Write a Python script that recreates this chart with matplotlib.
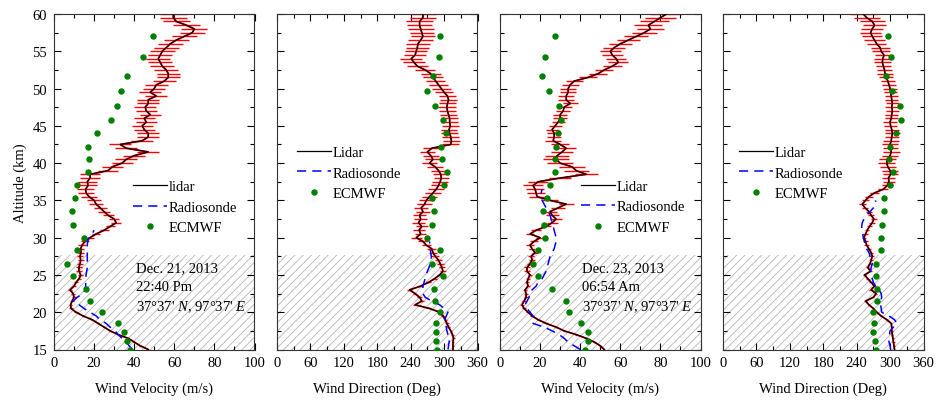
import numpy as np
import matplotlib
matplotlib.use("Agg")
import matplotlib.pyplot as plt
from matplotlib.ticker import MultipleLocator

plt.rcParams['font.family'] = ['Liberation Serif', 'DejaVu Serif']
plt.rcParams['font.size'] = 10.5
plt.rcParams['mathtext.fontset'] = 'custom'
plt.rcParams['mathtext.rm'] = 'Liberation Serif'
plt.rcParams['mathtext.it'] = 'Liberation Serif:italic'
plt.rcParams['hatch.color'] = '#b5b5b5'
plt.rcParams['hatch.linewidth'] = 0.6

# ---------------- data ----------------
alt = np.arange(15.0, 60.01, 0.5)          # lidar altitude grid (km)

# Panel 1: wind velocity, Dec 21 2013
lidar_v1 = [47, 43, 40, 37, 32, 28, 25, 22, 19, 14.5,
            11, 8.5, 8.3, 9, 10, 9.5, 8, 10, 11, 12.5,
            13.3, 12.5, 12.4, 13, 13.3, 13, 13.5, 13.3, 14, 15.5,
            18, 21, 25, 28, 31, 30, 27, 25, 23, 21,
            20, 17.5, 16, 15.8, 17, 16.6, 18, 18, 27, 29,
            34, 36, 40, 47, 36, 33, 44, 47, 47, 45,
            44, 46, 45, 48, 46, 45.5, 47, 47, 51, 48,
            50, 51, 55, 57, 57, 56, 54, 53, 52, 53,
            54, 56, 58, 61, 65, 69, 70, 66, 61, 59.5,
            59.5]
err_v1 = [0.4, 0.4, 0.5, 0.5, 0.5, 0.5, 0.6, 0.6, 0.6, 0.7,
          0.8, 0.8, 0.9, 0.9, 1.0, 1.0, 1.1, 1.1, 1.2, 1.2,
          1.3, 1.3, 1.4, 1.4, 1.5, 1.5, 1.6, 1.7, 1.8, 1.9,
          2.0, 2.1, 2.2, 2.3, 2.4, 2.6, 2.8, 3.0, 3.2, 3.4,
          3.6, 3.8, 4.0, 4.2, 4.4, 4.6, 4.8, 5.0, 5.0, 5.2,
          5.2, 5.4, 5.4, 5.5, 5.6, 5.6, 5.6, 5.5, 5.4, 5.3,
          5.2, 5.2, 5.2, 5.3, 5.3, 5.4, 5.4, 5.5, 5.5, 5.6,
          5.6, 5.7, 5.7, 5.8, 5.8, 5.9, 5.9, 6.0, 6.0, 6.0,
          6.1, 6.1, 6.2, 6.2, 6.3, 6.4, 6.5, 6.6, 6.6, 6.6,
          6.6]
sonde_alt1 = [15, 15.5, 16, 16.5, 17, 17.5, 18, 18.5, 19, 19.5, 20, 20.5, 21, 21.5, 22,
              22.5, 23, 23.5, 24, 24.5, 25, 25.5, 26, 26.5, 27, 27.5, 28, 28.5, 29, 29.5,
              30, 30.5, 31]
sonde_v1 = [39, 37.5, 36, 34, 32, 30.5, 28, 26, 23, 21, 18, 15, 12.5, 9.5, 11.5,
            14.5, 15.5, 15.8, 15.8, 15.8, 16, 16.3, 16.6, 16.6, 16.6, 16.6, 16.6, 16.6, 16.6, 16.8,
            17.5, 19, 20]

ecmwf_alt = [15.0, 16.1, 17.4, 18.6, 20.0, 21.5, 23.1, 24.8, 26.5, 28.3, 30.0, 31.7, 33.6,
             35.3, 37.0, 38.8, 40.5, 42.2, 44.0, 45.8, 47.7, 49.7, 51.7, 54.2, 57.0]
ecmwf_v1 = [38, 36.5, 35, 32, 24, 17.9, 15.8, 9.6, 6.3, 11.3, 15, 9.5, 9.1,
            10.4, 11.3, 17.1, 17.4, 17.1, 21.6, 28.5, 31.2, 33.5, 36.5, 44.4, 49.3]

# Panel 2: wind direction, Dec 21 2013
lidar_d2 = [316, 316, 316, 317, 315, 312, 308, 305, 302, 298,
            292, 274, 248, 260, 256, 248, 238, 258, 272, 283,
            292, 298, 296, 293, 290, 284, 280, 278, 268, 262,
            250, 258, 255, 260, 254, 258, 256, 262, 259, 265,
            268, 274, 280, 286, 290, 293, 295, 294, 290, 284,
            274, 280, 276, 270, 278, 312, 313, 312, 310, 309,
            311, 310, 310, 308, 306, 305, 306, 308, 306, 300,
            295, 290, 285, 280, 276, 266, 252, 246, 241, 248,
            250, 252, 253, 258, 262, 260, 258, 256, 256, 262,
            262]
err_d2 = [2, 2, 2, 2, 2, 2, 3, 3, 3, 3,
          3, 3, 4, 4, 4, 4, 4, 5, 5, 5,
          5, 6, 6, 6, 7, 7, 7, 8, 8, 9,
          10, 10, 11, 11, 12, 12, 12, 13, 13, 13,
          13, 13, 14, 14, 14, 14, 14, 14, 14, 14,
          14, 14, 14, 14, 15, 15, 15, 15, 15, 15,
          15, 15, 15, 15, 16, 16, 16, 16, 16, 16,
          17, 17, 17, 18, 18, 18, 19, 19, 20, 20,
          20, 21, 21, 22, 22, 22, 23, 23, 24, 24,
          24]
sonde_alt2 = [15, 15.5, 16, 16.5, 17, 17.5, 18, 18.5, 19, 19.5, 20, 20.5, 21, 21.5, 22,
              22.5, 23, 23.5, 24, 24.5, 25, 25.5, 26, 26.5, 27, 27.5, 28, 28.5, 29, 29.5]
sonde_d2 = [307, 308, 309, 310, 307, 305, 304, 302, 301, 304, 307, 300, 292, 278, 266,
            262, 262, 262, 264, 266, 268, 270, 273, 275, 277, 277, 276, 275, 274, 274]
ecmwf_d2 = [287, 286, 285, 286, 293, 284, 282, 298, 278, 292, 270, 279, 282,
            279, 300, 306, 297, 295, 303, 298, 284, 269, 280, 291, 292]

# Panel 3: wind velocity, Dec 23 2013
lidar_v3 = [52, 50, 47, 43, 38, 32, 28, 23, 19, 16,
            14, 12, 11, 12, 13, 13, 12.5, 14, 13.5, 14,
            15, 13.5, 13.5, 15, 16, 15.5, 17.5, 16, 15, 17,
            20, 15, 18, 23, 26, 28, 26, 25, 29, 33,
            25, 18.5, 18, 17.5, 16.5, 19, 30, 43, 38, 36,
            30, 28, 28.5, 31, 33, 30, 26.5, 27, 27, 26,
            27.5, 29, 30, 30, 31.5, 32, 35, 33, 33, 34,
            34, 35, 37, 44, 49, 52, 56, 59, 58, 56,
            55, 57, 60, 64, 68, 72, 75, 74, 77, 80,
            83]
err_v3 = [0.5, 0.5, 0.5, 0.6, 0.6, 0.6, 0.7, 0.7, 0.7, 0.8,
          0.8, 0.8, 0.9, 0.9, 1.0, 1.0, 1.0, 1.1, 1.1, 1.2,
          1.2, 1.3, 1.3, 1.4, 1.5, 1.5, 1.6, 1.7, 1.8, 1.9,
          2.0, 2.2, 2.4, 2.6, 2.8, 3.0, 3.2, 3.4, 3.6, 3.8,
          4.0, 4.2, 4.4, 4.6, 4.8, 5.0, 5.4, 5.8, 6.2, 6.4,
          6.5, 6.4, 6.0, 5.5, 5.0, 4.5, 4.0, 3.6, 3.4, 3.2,
          3.2, 3.3, 3.4, 3.5, 3.6, 3.7, 3.8, 3.9, 4.0, 4.0,
          4.1, 4.2, 4.3, 4.4, 4.5, 4.6, 4.8, 5.0, 5.0, 5.1,
          5.2, 5.4, 5.6, 5.8, 6.0, 6.3, 6.6, 7.0, 7.4, 7.8,
          8.0]
sonde_alt3 = [15, 15.5, 16, 16.5, 17, 17.5, 18, 18.5, 19, 19.5, 20, 20.5, 21, 21.5, 22,
              22.5, 23, 23.5, 24, 24.5, 25, 25.5, 26, 26.5, 27, 27.5, 28, 28.5, 29, 29.5,
              30, 30.5, 31, 31.5, 32, 32.5, 33, 33.5, 34, 34.5, 35, 35.5, 36, 36.5]
sonde_v3 = [40, 37, 34, 32, 29.5, 26, 22, 16.5, 16, 16.5, 15, 13.5, 12.5, 13.5, 14.5,
            15, 16, 18, 19, 21, 22, 23, 23.5, 24, 24.5, 25, 26, 27, 27.5, 28,
            28, 27.5, 27, 26.5, 26, 25.5, 25, 24, 23, 22, 21, 20.5, 20.5, 21]
ecmwf_v3 = [42.5, 43.7, 43.7, 40.3, 34.5, 33, 25.8, 18.8, 16.7, 19.2, 22.5, 21.7, 21.2,
            23.3, 24.7, 27.3, 27.3, 27.8, 28.8, 30.5, 29.3, 24.5, 20.8, 22.5, 27.5]

# Panel 4: wind direction, Dec 23 2013
lidar_d4 = [308, 307, 306, 305, 304, 303, 303, 302, 294, 284,
            276, 270, 262, 256, 270, 275, 266, 272, 266, 260,
            254, 265, 260, 264, 266, 268, 266, 262, 258, 256,
            253, 256, 259, 263, 268, 271, 266, 262, 255, 250,
            256, 262, 272, 288, 295, 298, 297, 301, 300, 296,
            294, 295, 300, 302, 301, 300, 302, 303, 304, 303,
            301, 300, 302, 303, 304, 303, 304, 303, 302, 301,
            300, 298, 296, 293, 291, 290, 288, 286, 287, 289,
            284, 282, 276, 272, 268, 265, 268, 272, 268, 258,
            252]
err_d4 = [2, 2, 2, 2, 2, 2, 2, 2, 2, 2,
          2, 2, 2, 2, 2, 2, 3, 3, 3, 3,
          3, 3, 3, 3, 3, 3, 4, 4, 4, 4,
          4, 4, 4, 5, 5, 5, 5, 5, 5, 6,
          6, 7, 8, 9, 10, 11, 12, 13, 14, 15,
          15, 15, 15, 15, 14, 14, 14, 13, 13, 13,
          12, 12, 12, 12, 12, 12, 12, 12, 12, 12,
          12, 13, 13, 13, 14, 14, 14, 15, 15, 16,
          16, 17, 17, 18, 18, 19, 20, 21, 22, 23,
          24]
sonde_alt4 = [15, 15.5, 16, 16.5, 17, 17.5, 18, 18.5, 19, 19.5, 20, 20.5, 21, 21.5, 22,
              22.5, 23, 23.5, 24, 24.5, 25, 25.5, 26, 26.5, 27, 27.5, 28, 28.5, 29, 29.5,
              30, 30.5, 31, 31.5, 32, 32.5, 33, 33.5, 34, 34.5, 35]
sonde_d4 = [301, 300, 298, 298, 299, 300, 306, 312, 308, 298, 285, 284, 283, 283, 285,
            284, 280, 274, 270, 268, 266, 265, 266, 268, 266, 264, 262, 258, 256, 254,
            252, 251, 250, 249, 250, 253, 258, 264, 270, 274, 274]
ecmwf_d4 = [274, 273, 270, 271, 270, 277, 277, 275, 275, 283, 284, 286, 289,
            289, 299, 305, 298, 299, 311, 320, 317, 304, 293, 302, 296]

hatch_top = 27.7
legend_labels = [["lidar", "Radiosonde", "ECMWF"],
                 ["Lidar", "Radiosonde", "ECMWF"],
                 ["Lidar", "Radiosonde", "ECMWF"],
                 ["Lidar", "Radiosonde", "ECMWF"]]
notes = {0: ["Dec. 21, 2013", "22:40 Pm"], 2: ["Dec. 23, 2013", "06:54 Am"]}

# ---------------- figure ----------------
fig = plt.figure(figsize=(9.36, 4.02), dpi=100)
lefts = [54, 277, 500, 723]
axes = []
for L in lefts:
    axes.append(fig.add_axes([L / 936, (402 - 350.5) / 402, 200.5 / 936, 335.5 / 402]))

panels = [
    (lidar_v1, err_v1, sonde_alt1, sonde_v1, ecmwf_v1, 'vel'),
    (lidar_d2, err_d2, sonde_alt2, sonde_d2, ecmwf_d2, 'dir'),
    (lidar_v3, err_v3, sonde_alt3, sonde_v3, ecmwf_v3, 'vel'),
    (lidar_d4, err_d4, sonde_alt4, sonde_d4, ecmwf_d4, 'dir'),
]
legend_pos = [(0.393, 0.505), (0.10, 0.607), (0.405, 0.507), (0.08, 0.607)]

for i, (ax, (lv, le, sa, sv, ev, kind)) in enumerate(zip(axes, panels)):
    ax.axhspan(15, hatch_top, facecolor='none', edgecolor='#b5b5b5', hatch='////',
               linewidth=0, zorder=0)
    ax.errorbar(lv, alt, xerr=le, fmt='-', color='red', ecolor='red', elinewidth=1.0,
                lw=1.3, capsize=0, zorder=2)
    l1, = ax.plot(lv, alt, color='black', lw=0.9, zorder=3)
    l2, = ax.plot(sv, sa, color='#0000ff', lw=1.1, ls=(0, (6, 4)), zorder=4)
    l3, = ax.plot(ev, ecmwf_alt, 'o', color='#008000', ms=3.6, mec='#008000', zorder=5)
    ax.set_ylim(15, 60)
    ax.yaxis.set_major_locator(MultipleLocator(5))
    ax.yaxis.set_minor_locator(MultipleLocator(2.5))
    if kind == 'vel':
        ax.set_xlim(0, 100)
        ax.xaxis.set_major_locator(MultipleLocator(20))
        ax.xaxis.set_minor_locator(MultipleLocator(10))
        ax.set_xlabel('Wind Velocity (m/s)', labelpad=9)
    else:
        ax.set_xlim(0, 360)
        ax.xaxis.set_major_locator(MultipleLocator(60))
        ax.xaxis.set_minor_locator(MultipleLocator(30))
        ax.set_xlabel('Wind Direction (Deg)', labelpad=9)
    ax.tick_params(which='both', direction='in', top=True, right=True, width=0.8)
    ax.tick_params(which='major', length=5, pad=5)
    ax.tick_params(which='minor', length=3)
    for s in ax.spines.values():
        s.set_linewidth(0.8)
        s.set_color('#333333')
    if i == 0:
        ax.set_ylabel('Altitude (km)', labelpad=4)
    else:
        ax.set_yticklabels([])
    ax.legend([l1, l2, l3], legend_labels[i], loc='upper left',
              bbox_to_anchor=legend_pos[i], frameon=False, borderpad=0,
              borderaxespad=0, handlelength=2.35, handletextpad=0.1,
              labelspacing=0.5, fontsize=10.5)
    if i in notes:
        x0 = 0.408 if i == 0 else 0.41
        ax.text(x0, 0.245, notes[i][0], transform=ax.transAxes, va='center', ha='left')
        ax.text(x0, 0.188, notes[i][1], transform=ax.transAxes, va='center', ha='left')
        ax.text(x0, 0.130, "37°37' $\\mathit{N}$, 97°37' $\\mathit{E}$",
                transform=ax.transAxes, va='center', ha='left')

fig.savefig('out.png', dpi=100)
